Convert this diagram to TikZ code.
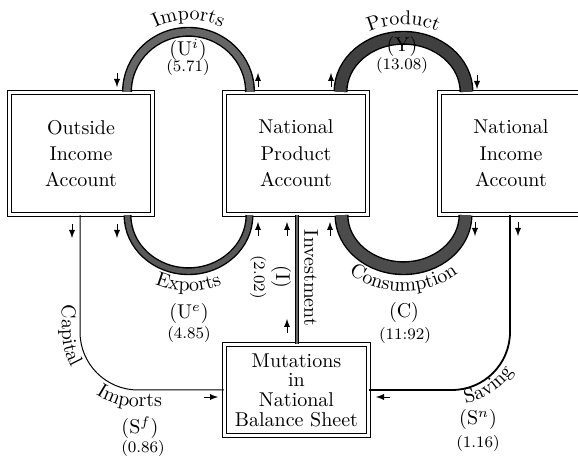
\documentclass[tikz,border=0pt]{standalone}
\usetikzlibrary{calc,decorations.text}

\begin{document}
\begin{tikzpicture}[x=0.5pt,y=0.5pt,
  account/.style={draw,double,double distance=1.3pt,line width=0.5pt,align=center,
    minimum width=71.7pt,minimum height=61.2pt,inner sep=0pt,
    execute at begin node={\setlength{\baselineskip}{13.2pt}}},
  band/.style={draw=black,line width=0.7pt,double=black!60,double distance=#1},
  flow/.style={draw,line width=#1,rounded corners=29pt},
  smallarrow/.style={-latex,line width=0.4pt},
  curved/.style={decorate,decoration={text along path,text={#1},text align=center}},
  sym/.style={inner sep=0pt},
  val/.style={inner sep=0pt,font=\footnotesize}]

  \useasboundingbox (0,0) rectangle (578,459);

  % accounts
  \node[account] (outside) at (81,305.5) {Outside\\Income\\Account};
  \node[account] (npa) at (296,305.5) {National\\Product\\Account};
  \node[account] (nia) at (511,305.5) {National\\Income\\Account};
  \node[account,minimum width=72.2pt,minimum height=45.7pt,
    execute at begin node={\setlength{\baselineskip}{9.8pt}}] (mut) at (296.5,69)
    {Mutations\\in\\National\\Balance Sheet};

  \coordinate (ic) at ($(outside.north east)!0.5!(npa.north west)$);
  \coordinate (yc) at ($(npa.north east)!0.5!(nia.north west)$);
  \coordinate (ec) at ($(outside.south east)!0.5!(npa.south west)$);
  \coordinate (cc) at ($(npa.south east)!0.5!(nia.south west)$);

  % the four bands
  \draw[band=3.6pt] ($(ic)+(-30.75pt,0)$) arc[start angle=180,end angle=0,x radius=30.75pt,y radius=30pt];
  \draw[band=5.6pt,double=black!75] ($(yc)+(-31.5pt,0)$) arc[start angle=180,end angle=0,x radius=31.5pt,y radius=27pt];
  \draw[band=2.6pt,double=black!65] ($(ec)+(-30.5pt,0)$) arc[start angle=180,end angle=360,x radius=30.5pt,y radius=28pt];
  \draw[band=5.6pt,double=black!70] ($(cc)+(-31pt,0)$) arc[start angle=180,end angle=360,x radius=31pt,y radius=26.5pt];

  % investment and saving flows
  \draw[band=1pt,line width=0.5pt] ([xshift=0.5pt]npa.south) -- ([xshift=0.25pt]mut.north);
  \draw[flow=0.5pt] ([xshift=-0.5pt]outside.south) |- (mut.west);
  \draw[flow=0.9pt] ([xshift=-0.5pt]nia.south) |- (mut.east);

  % curved labels
  \path[curved=Imports] ($(ic)+(-36.75pt,0)$) arc[start angle=180,end angle=0,x radius=36.75pt,y radius=36pt];
  \path[curved=Product] ($(yc)+(-38.5pt,0)$) arc[start angle=180,end angle=0,x radius=38.5pt,y radius=33.5pt];
  \path[curved=Exports] ($(ec)+(-40.5pt,0)$) arc[start angle=180,end angle=360,x radius=40.5pt,y radius=38pt];
  \path[curved=Consumption] ($(cc)+(-42.5pt,0)$) arc[start angle=180,end angle=360,x radius=42.5pt,y radius=38pt];
  \path[decorate,decoration={text along path,text={Capital},text align=left}]
    (62,154) -- (62,128) arc[start angle=180,end angle=270,radius=38pt] -- (162,52);
  \path[decorate,decoration={text along path,text={Imports},text align=right}]
    (62,154) -- (62,128) arc[start angle=180,end angle=270,radius=38pt] -- (162,52);
  \path[decorate,decoration={text along path,text={Saving},text align=left}]
    (465.5,56) arc[start angle=280,end angle=360,radius=36pt] -- (525,160);
  \node[rotate=-90,sym] (inv) at (311,181) {Investment};

  % symbols and values
  \node[sym] (ui) at (188,409) {(U$^i$)};
  \node[val] (uiv) at (188,391) {(5.71)};
  \node[sym] (yy) at (402,412) {(Y)};
  \node[val] (yyv) at (402,393) {(13.08)};
  \node[sym] (ue) at (189,145) {(U$^e$)};
  \node[val] (uev) at (189,124) {(4.85)};
  \node[sym] (cons) at (404,146) {(C)};
  \node[val] (consv) at (405,123) {(11:92)};
  \node[sym] (sf) at (140,31) {(S$^f$)};
  \node[val] (sfv) at (143,10) {(0.86)};
  \node[sym] (sn) at (478,39) {(S$^n$)};
  \node[val] (snv) at (478,15) {(1.16)};
  \node[sym,rotate=-90] (ii) at (281,182) {(I)};
  \node[val,rotate=-90] (iiv) at (258,182) {(2.02)};

  % direction arrows
  \draw[smallarrow] (117,386) -- (117,372);
  \draw[smallarrow] (258,372) -- (258,386);
  \draw[smallarrow] (331,372) -- (331,386);
  \draw[smallarrow] (477,384) -- (477,370);
  \draw[smallarrow] (72,235) -- (72,221);
  \draw[smallarrow] (117,235) -- (117,221);
  \draw[smallarrow] (258,223) -- (258,237);
  \draw[smallarrow] (287,223) -- (287,237);
  \draw[smallarrow] (330,223) -- (330,237);
  \draw[smallarrow] (475,237) -- (475,223);
  \draw[smallarrow] (518,237) -- (518,223);
  \draw[smallarrow] (287,126) -- (287,140);
  \draw[smallarrow] (204,62) -- (218,62);
  \draw[smallarrow] (390,62) -- (376,62);
\end{tikzpicture}
\end{document}
